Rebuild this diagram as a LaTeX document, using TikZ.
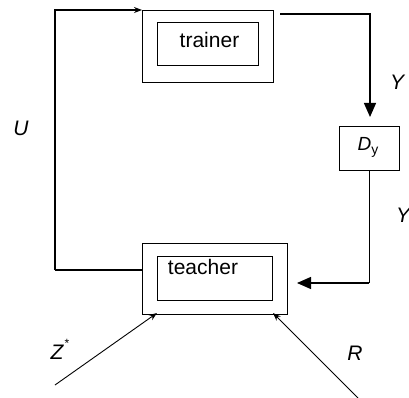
\documentclass[tikz,border=0pt]{standalone}
\usepackage{fontspec}
\setmainfont{Liberation Sans}
\usetikzlibrary{arrows.meta}
\begin{document}
\begin{tikzpicture}[x=1pt,y=-1pt,
  box/.style={draw, line width=0.8pt, inner sep=0pt, outer sep=0pt},
  lbl/.style={font=\fontsize{21}{24}\selectfont\itshape, inner sep=0pt},
  txt/.style={font=\fontsize{21}{24}\selectfont, inner sep=0pt},
  wire/.style={line width=1.3pt},
  bigtip/.style={-{Triangle[length=14pt,width=12pt]}},
  smalltip/.style={-{Stealth[length=8pt,width=6pt]}}]
\useasboundingbox (0,0) rectangle (409,398);
% trainer
\node[box, minimum width=131pt, minimum height=72pt] (trout) at (207.5,46) {};
\node[box, minimum width=101pt, minimum height=43pt] (trin) at (207.5,43.5) {};
\node[txt] (trtxt) at (209.5,40) {trainer};
% teacher
\node[box, minimum width=145pt, minimum height=71pt] (teout) at (214.5,278.5) {};
\node[box, minimum width=115pt, minimum height=44pt] (tein) at (214.5,278) {};
\node[txt] (tetxt) at (203,267) {teacher};
% D_y
\node[box, minimum width=60pt, minimum height=44pt] (dy) at (369,148) {};
\node[font=\fontsize{19}{22}\selectfont, inner sep=0pt] (dytxt) at (368,147) {\textit{D}\raisebox{-4pt}{\fontsize{14}{15}\selectfont y}};
% coordinates
\coordinate (tl) at (55,10);
\coordinate (bl) at (55,270);
\coordinate (bm) at (95,270);
\coordinate (trs) at (280,14);
\coordinate (trc) at (370,14);
\coordinate (dytip) at (370,117);
\coordinate (dyb) at (369,170);
\coordinate (brc) at (369,283);
\coordinate (tetip) at (297,283);
\coordinate (zs) at (55,385);
\coordinate (zt) at (157,313);
\coordinate (rs) at (358,398);
\coordinate (rt) at (273,313);
% connectors
\draw[wire, smalltip] (bl) -- (tl) -- (trout.north west);
\draw[line width=2.6pt] (bl) -- (bm);
\draw[wire] (bm) -- (teout.west |- bm);
\draw[wire, bigtip] (trs) -- (trc) -- (dytip);
\draw[line width=0.8pt] (dyb) -- (brc);
\draw[wire, bigtip] (brc) -- (tetip);
\draw[line width=0.9pt, smalltip] (zs) -- (zt);
\draw[line width=0.9pt, smalltip] (rs) -- (rt);
% labels
\node[lbl] (ul) at (21,128) {U};
\node[lbl] (y1) at (397,82) {Y};
\node[lbl] (y2) at (403,215) {Y};
\node[lbl] (zl) at (57,352) {Z};
\node[font=\fontsize{12}{14}\selectfont, inner sep=0pt] (zst) at (67,343) {*};
\node[lbl] (rl) at (355,353) {R};
\end{tikzpicture}
\end{document}
